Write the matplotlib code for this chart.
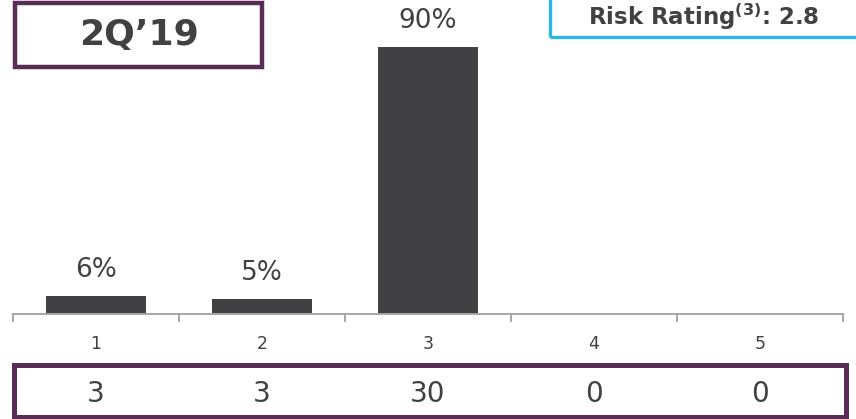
import matplotlib
matplotlib.use("Agg")
import matplotlib.pyplot as plt
from matplotlib.patches import Rectangle

# rating buckets, share of portfolio and count per bucket
ratings = ["1", "2", "3", "4", "5"]
shares = [6, 5, 90, 0, 0]
counts = [3, 3, 30, 0, 0]
period = "2Q\u201919"
risk_label = r"Risk Rating$^{\mathbf{(3)}}$: 2.8"

W, H = 856, 419
dark = "#414042"
purple = "#582C54"
cyan = "#2EB5E6"
grey = "#A6A6A6"

fig = plt.figure(figsize=(W / 100, H / 100), dpi=100)


def fx(px):
    return px / W


def fy(py):
    return 1 - py / H


# bar chart area: baseline at y=314 px, spans x 13..843 px
ax = fig.add_axes([fx(13), fy(314), fx(843) - fx(13), 314 / H])
x = list(range(1, len(ratings) + 1))
ax.bar(x, shares, width=0.6, color=dark)
ax.set_xlim(0.5, len(ratings) + 0.5)
ax.set_ylim(0, 90 * 314 / 267)

for xi, s in zip(x, shares):
    if s > 0:
        ax.annotate(f"{s}%", (xi, s), xytext=(0, 19), textcoords="offset points",
                    ha="center", va="center", fontsize=19, color=dark)

for side in ["top", "right", "left"]:
    ax.spines[side].set_visible(False)
ax.spines["bottom"].set_color(grey)
ax.spines["bottom"].set_linewidth(1.4)
ax.set_yticks([])
ax.set_xticks(x)
ax.set_xticklabels(ratings, fontsize=12.5, color=dark)
ax.tick_params(axis="x", which="major", length=0, pad=15)
ax.set_xticks([i + 0.5 for i in range(0, len(ratings) + 1)], minor=True)
ax.tick_params(axis="x", which="minor", length=6, width=1.4, color=grey)

# counts row in a framed strip below the axis
fig.patches.append(Rectangle((fx(14.5), fy(416.5)), fx(845.5) - fx(14.5), fy(365.5) - fy(416.5),
                             transform=fig.transFigure, fill=False, edgecolor=purple,
                             linewidth=3.6))
for xi, c in zip(x, counts):
    xf = fx(13) + (xi - 0.5) / len(ratings) * (fx(843) - fx(13))
    fig.text(xf, fy(394), str(c), ha="center", va="center", fontsize=20, color=dark)

# period label box
fig.patches.append(Rectangle((fx(15.5), fy(67.5)), fx(262.5) - fx(15.5), fy(3.5) - fy(67.5),
                             transform=fig.transFigure, fill=False, edgecolor=purple,
                             linewidth=3.2))
fig.text(fx(139), fy(35), period, ha="center", va="center", fontsize=26,
         fontweight="bold", color=dark)

# risk rating box, running off the top right corner
fig.patches.append(Rectangle((fx(549.5), fy(37)), fx(950) - fx(549.5), fy(-20) - fy(37),
                             transform=fig.transFigure, fill=False, edgecolor=cyan,
                             linewidth=2.4))
fig.text(fx(588), fy(25), risk_label, ha="left", va="baseline", fontsize=16.5,
         fontweight="bold", color=dark)

fig.savefig("out.png", dpi=100)
